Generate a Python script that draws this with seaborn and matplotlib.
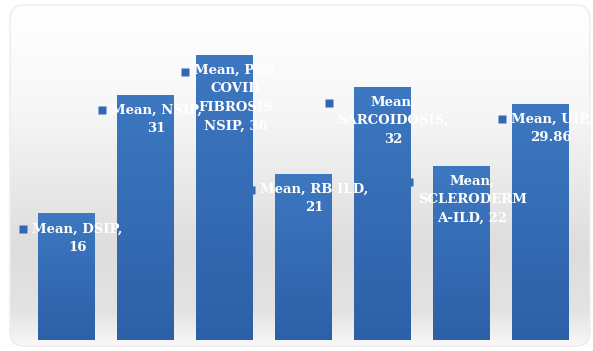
import numpy as np
import matplotlib
matplotlib.use("Agg")
import matplotlib.pyplot as plt
from matplotlib.patches import FancyBboxPatch
from matplotlib.colors import LinearSegmentedColormap
import seaborn as sns
import pandas as pd

# ---- data ----
categories = ["DSIP", "NSIP", "Post COVID FIBROSIS NSIP", "RB ILD",
              "SARCOIDOSIS", "SCLERODERMA-ILD", "UIP"]
values = [16, 31, 36, 21, 32, 22, 29.86]
value_text = ["16", "31", "36", "21", "32", "22", "29.86"]
series_name = "Mean"
label_lines = [
    ["Mean, DSIP,", "16"],
    ["Mean, NSIP,", "31"],
    ["Mean, Post", "COVID", "FIBROSIS", "NSIP, 36"],
    ["Mean, RB ILD,", "21"],
    ["Mean,", "SARCOIDOSIS,", "32"],
    ["Mean,", "SCLERODERM", "A-ILD, 22"],
    ["Mean, UIP,", "29.86"],
]

sns.set_style("white")
plt.rcParams["font.family"] = ["DejaVu Serif"]

W, H = 593, 351
fig = plt.figure(figsize=(W / 100, H / 100), dpi=100)
fig.patch.set_facecolor("white")

# background panel with gradient (pixel coordinates)
bg = fig.add_axes([0, 0, 1, 1])
bg.set_xlim(0, W)
bg.set_ylim(H, 0)
bg.axis("off")
bg_cmap = LinearSegmentedColormap.from_list(
    "bg", [(0.0, "#ffffff"), (0.3, "#f7f7f7"), (0.72, "#dddddd"),
           (0.9, "#e3e3e3"), (1.0, "#f8f8f8")])
grad = np.linspace(0, 1, 256).reshape(-1, 1)
im = bg.imshow(grad, cmap=bg_cmap, aspect="auto", extent=(10, 590, 346, 5),
               interpolation="bicubic", zorder=0)
panel = FancyBboxPatch((10, 5), 580, 341,
                       boxstyle="round,pad=0,rounding_size=14",
                       facecolor="none", edgecolor="#ececec", lw=1.0, zorder=1)
bg.add_patch(panel)
im.set_clip_path(panel)

# main axes
ax_left, ax_right = 27 / W, 579.5 / W
ax_bottom, ax_top = 11 / H, 1 - 23.3 / H
ax = fig.add_axes([ax_left, ax_bottom, ax_right - ax_left, ax_top - ax_bottom])
ax.patch.set_alpha(0)

df = pd.DataFrame({"category": categories, "value": values})
sns.barplot(data=df, x="category", y="value", ax=ax, color="#3268b0",
            saturation=1, width=0.71, zorder=2)
ax.set_xlabel("")
ax.set_ylabel("")
ax.set_xticks([])
ax.set_yticks([])
for s in ax.spines.values():
    s.set_visible(False)

# bar gradient
bar_cmap = LinearSegmentedColormap.from_list("bar", ["#2d60a7", "#3d78c1"])
for p in ax.patches:
    x0, y0 = p.get_x(), p.get_y()
    w, h = p.get_width(), p.get_height()
    p.set_facecolor("none")
    p.set_edgecolor("none")
    gi = ax.imshow(np.linspace(0, 1, 256).reshape(-1, 1), cmap=bar_cmap,
                   origin="lower", aspect="auto",
                   extent=(x0, x0 + w, y0, y0 + h), zorder=2,
                   interpolation="bicubic")
    gi.set_clip_path(p)
ax.set_xlim(-0.5, len(categories) - 0.5)
ax.set_ylim(0, 40)

# data labels
texts = []
for i, (v, lines) in enumerate(zip(values, label_lines)):
    t = ax.annotate("\n".join(lines), xy=(i, v), xytext=(8, -6.5),
                    textcoords="offset points", ha="center", va="top",
                    color="white", fontsize=9.5, fontweight="bold",
                    linespacing=1.55, zorder=5)
    texts.append(t)

fig.canvas.draw()
renderer = fig.canvas.get_renderer()
for t in texts:
    bb = t.get_window_extent(renderer)
    nlines = t.get_text().count("\n") + 1
    line_h = bb.height / nlines
    mx = bb.x0 - 9
    my = bb.y1 - line_h / 2 + 1
    bg.plot([mx], [H - my], marker="s", ms=5.5, color="#3268b0",
            mec="none", zorder=6)

fig.savefig("out.png", dpi=100)
